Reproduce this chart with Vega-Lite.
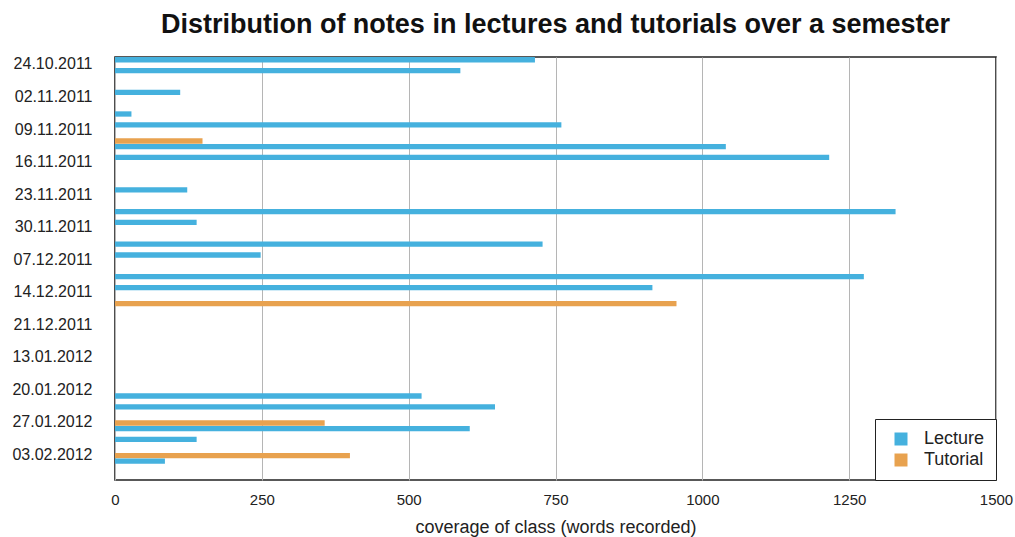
{
  "$schema": "https://vega.github.io/schema/vega-lite/v6.json",
  "width": 881,
  "height": 423,
  "autosize": {"type": "none"},
  "padding": {"left": 115, "top": 57, "right": 19, "bottom": 57},
  "background": "white",
  "title": {
    "text": "Distribution of notes in lectures and tutorials over a semester",
    "fontSize": 27,
    "font": "Liberation Sans",
    "fontWeight": "bold",
    "color": "#111111",
    "anchor": "middle",
    "offset": 17
  },
  "config": {
    "font": "Liberation Sans",
    "view": {"stroke": "#222222", "strokeWidth": 1.6}
  },
  "data": {
    "values": [
      {"date": "24.10.2011", "type": "Lecture", "words": 715},
      {"date": "26.10.2011", "type": "Lecture", "words": 588},
      {"date": "28.10.2011", "type": "Lecture", "words": 0},
      {"date": "02.11.2011", "type": "Lecture", "words": 111},
      {"date": "04.11.2011", "type": "Lecture", "words": 0},
      {"date": "07.11.2011", "type": "Lecture", "words": 28},
      {"date": "09.11.2011", "type": "Lecture", "words": 760},
      {"date": "11.11.2011", "type": "Tutorial", "words": 149},
      {"date": "14.11.2011", "type": "Lecture", "words": 1040},
      {"date": "16.11.2011", "type": "Lecture", "words": 1216},
      {"date": "18.11.2011", "type": "Lecture", "words": 0},
      {"date": "21.11.2011", "type": "Lecture", "words": 0},
      {"date": "23.11.2011", "type": "Lecture", "words": 123},
      {"date": "25.11.2011", "type": "Lecture", "words": 0},
      {"date": "28.11.2011", "type": "Lecture", "words": 1329},
      {"date": "30.11.2011", "type": "Lecture", "words": 139},
      {"date": "02.12.2011", "type": "Lecture", "words": 0},
      {"date": "05.12.2011", "type": "Lecture", "words": 728},
      {"date": "07.12.2011", "type": "Lecture", "words": 248},
      {"date": "09.12.2011", "type": "Lecture", "words": 0},
      {"date": "12.12.2011", "type": "Lecture", "words": 1275},
      {"date": "14.12.2011", "type": "Lecture", "words": 915},
      {"date": "16.12.2011", "type": "Tutorial", "words": 956},
      {"date": "19.12.2011", "type": "Lecture", "words": 0},
      {"date": "21.12.2011", "type": "Lecture", "words": 0},
      {"date": "09.01.2012", "type": "Lecture", "words": 0},
      {"date": "11.01.2012", "type": "Lecture", "words": 0},
      {"date": "13.01.2012", "type": "Lecture", "words": 0},
      {"date": "16.01.2012", "type": "Lecture", "words": 0},
      {"date": "18.01.2012", "type": "Lecture", "words": 0},
      {"date": "20.01.2012", "type": "Lecture", "words": 0},
      {"date": "23.01.2012", "type": "Lecture", "words": 522},
      {"date": "25.01.2012", "type": "Lecture", "words": 647},
      {"date": "27.01.2012", "type": "Tutorial", "words": 357},
      {"date": "30.01.2012", "type": "Lecture", "words": 604},
      {"date": "01.02.2012", "type": "Lecture", "words": 139},
      {"date": "03.02.2012", "type": "Tutorial", "words": 400},
      {"date": "06.02.2012", "type": "Lecture", "words": 85},
      {"date": "08.02.2012", "type": "Lecture", "words": 0}
    ]
  },
  "mark": {"type": "bar"},
  "encoding": {
    "y": {
      "field": "date",
      "type": "nominal",
      "sort": null,
      "scale": {"paddingInner": 0, "paddingOuter": 0},
      "axis": {
        "title": null,
        "values": ["24.10.2011", "02.11.2011", "09.11.2011", "16.11.2011", "23.11.2011", "30.11.2011", "07.12.2011", "14.12.2011", "21.12.2011", "13.01.2012", "20.01.2012", "27.01.2012", "03.02.2012"],
        "ticks": false,
        "domain": false,
        "labelFontSize": 16,
        "labelColor": "#222222",
        "labelPadding": 23,
        "labelOffset": 2
      }
    },
    "yOffset": {
      "field": "type",
      "type": "nominal",
      "scale": {"domain": ["Lecture", "Tutorial"], "paddingInner": 0, "paddingOuter": 0.02}
    },
    "x": {
      "field": "words",
      "type": "quantitative",
      "scale": {"domain": [0, 1500], "nice": false},
      "axis": {
        "values": [0, 250, 500, 750, 1000, 1250, 1500],
        "format": "d",
        "ticks": false,
        "domain": false,
        "grid": true,
        "gridColor": "#b5b5b5",
        "gridWidth": 1,
        "labelFlush": false,
        "labelFontSize": 15,
        "labelColor": "#222222",
        "labelPadding": 12,
        "title": "coverage of class (words recorded)",
        "titleFontSize": 18,
        "titleFontWeight": "normal",
        "titleColor": "#222222",
        "titlePadding": 11
      }
    },
    "color": {
      "field": "type",
      "type": "nominal",
      "scale": {"domain": ["Lecture", "Tutorial"], "range": ["#45b1de", "#e8a24f"]},
      "legend": {
        "title": null,
        "orient": "bottom-right",
        "offset": 0,
        "strokeColor": "#222222",
        "fillColor": "white",
        "padding": 11,
        "symbolType": "square",
        "symbolSize": 169,
        "symbolStrokeWidth": 0,
        "symbolOffset": 6,
        "labelFontSize": 18,
        "labelColor": "#222222",
        "labelOffset": 14,
        "rowPadding": 3,
        "labelExpr": "datum.label + '\u2002\u2002'"
      }
    }
  }
}
